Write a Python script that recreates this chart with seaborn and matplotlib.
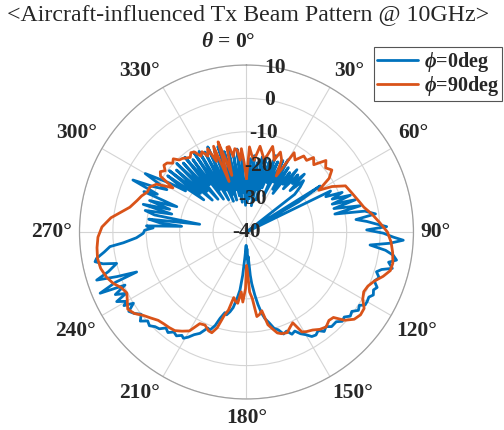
import numpy as np
import pandas as pd
import seaborn as sns
import matplotlib.pyplot as plt

# --- pattern (theta in deg, gain in dB) ---
theta_phi0 = [0, 1.5, 3, 4.5, 6, 7.5, 9, 10.5, 12, 13.5, 15, 16.5, 18, 19.5, 21, 22.5, 24, 25.5,
              27, 28.5, 30, 31.5, 33, 34.5, 36, 37.5, 39, 40.5, 42, 43.5, 45, 46.5, 48, 50, 52, 55,
              58, 60, 62, 64, 66, 67.5, 69, 70.5, 72, 73.5, 75, 77, 78.5, 80, 82, 83.5, 85, 86.5,
              87.8, 89, 90.5, 92, 93, 94.5, 96, 97.5, 99, 100.6, 102, 104, 105.5, 107, 109, 111,
              113, 114.5, 116.4, 118, 120, 121.6, 123, 125, 127, 129, 131, 133, 135, 138, 140,
              142, 144, 146, 148, 150, 152, 154, 156, 158, 160, 162, 164, 166, 168, 169.4, 171,
              172.5, 174.2, 175, 176, 177, 178.5, 180, 181.5, 183.5, 185, 186.4, 188, 190, 191.7,
              193.5, 195, 197, 198.5, 200.4, 202, 204.7, 207, 209, 210.7, 212, 214, 216, 218,
              220, 222, 224, 226, 228, 230, 232, 234, 236, 237.8, 239, 240, 241.8, 243, 244.5,
              246.4, 247.3, 249, 250, 251, 252.2, 254, 256.4, 257.5, 258.9, 260, 262, 263.9, 265,
              267, 269.3, 271, 272.5, 273.5, 275, 276, 277.5, 279.4, 280.5, 282, 283.5, 285,
              286.5, 288, 290, 291.5, 293, 294.6, 296, 298, 300, 302.5, 304, 305.5, 307, 308.5,
              310, 311.5, 313, 314.5, 316, 317.5, 319, 320.5, 322, 323.5, 325, 326.5, 328, 329.5,
              331, 332.5, 334, 335.5, 337, 338.5, 340, 341.5, 343, 344.5, 346, 347.5, 349, 350.5,
              352, 353.5, 355, 356.5, 358, 360]
gain_phi0 = [-22, -31, -18, -30, -17, -28, -19, -32, -17, -27, -16.5, -30, -18, -26, -15.5, -24,
             -17, -28, -16, -23, -15, -25, -17, -26, -18, -22, -16, -23, -17, -20, -15.5, -22,
             -17, -19, -21.7, -40, -14, -22, -40, -12, -14, -9, -12.5, -7, -13, -6, -12.9, -5,
             -13, -4, -1, -7, -3.8, -1, 2.0, -4, 1, 4, 7.0, 3, -2.8, 2, 4.5, 5.7, 3.5, 5, 2,
             0.7, 2.0, 1, 2.5, 1.8, 2.4, 1.5, 1.7, 1.7, 0.3, 0.9, -0.5, 0, -1.2, -0.8, -2, -1.9,
             -3, -2.2, -3.5, -2.8, -3.1, -4.5, -5.5, -7, -6.5, -8, -7.5, -9.2, -10, -12, -13.5,
             -15.2, -18, -21, -24.5, -27, -32.6, -28, -35, -32, -36, -32.6, -27, -22.5, -20,
             -17, -15.6, -14.5, -15, -13, -10.5, -8.7, -9, -6.6, -5.5, -4, -3, -3.5, -2.5, -3,
             -1.8, -2.5, -1, -0.6, 0.4, -0.2, 1.5, 0, 1.5, 2.5, 0, 2.8, 1.5, 4.1, 0.5, 3.5, -0.3,
             7.5, 2, -5.0, 1, 7.1, 3, 0, 4, 6.2, 5.6, 3, 1.1, -3, -7, -9.1, -9.5, -12, -10,
             -20.5, -14, -10.5, -25.8, -12, -9, -17, -8, -16, -9.5, -17.8, -7, -11, -2.6, -9,
             -13, -5, -12.8, -18, -11, -24, -10.5, -22, -12, -26, -10.7, -23, -12, -27, -11, -22,
             -13, -28, -11.3, -25, -12, -29, -13, -26, -12, -30, -14, -28, -13, -30, -15, -27,
             -14, -29, -16, -31, -15, -28, -17, -32, -22]

theta_phi90 = [0, 2, 4, 6, 9, 12, 14, 17, 19, 21, 23, 26, 28, 31, 34, 37, 40, 42, 45, 48, 51,
               54, 57, 60, 62, 65, 69, 72, 75, 78, 82, 86, 90, 94, 98, 102, 105, 108, 111, 114,
               117, 120, 123, 126, 129, 132, 134.5, 137, 140, 143, 146, 149, 151, 153, 155, 158,
               161, 163, 165, 167, 169, 171, 173, 175, 177, 179, 180, 181, 183, 185, 187, 189,
               191, 193, 195, 197, 199, 201, 204, 207, 210, 213, 216, 219, 222, 225, 228, 231,
               234, 237, 240, 243, 246, 249, 252, 256, 260, 264, 268, 272, 276, 279, 282, 286,
               289, 292, 295, 298, 301, 303, 305, 307, 309, 311, 313, 315, 317, 319, 321, 323,
               325, 327, 329, 331, 333, 335, 337, 339, 341, 342.5, 344, 345.5, 347, 348.5, 350,
               352, 353.5, 355, 356.5, 358, 360]
gain_phi90 = [-24, -14.5, -17, -18.4, -14, -16.5, -17.8, -13.2, -15, -17, -14, -16, -21, -12.3,
              -14, -11.5, -12, -10, -11.5, -8, -9.5, -8.4, -10.5, -15, -11, -7.3, -6.5, -5.8, -5,
              -4.1, -2, 0, 2.2, 3.4, 4.2, 4.8, 4.6, 3.0, 1.0, -0.2, -0.6, 0.2, 2.0, 2.2, 1.5,
              -0.5, -3.5, -3.8, -2.9, -3.5, -4.6, -5.2, -5.8, -9.5, -8.8, -7.5, -7.8, -8.4, -10,
              -11.5, -16, -15, -14.5, -20, -22, -29, -30, -23, -19, -22, -18.5, -19, -20, -16,
              -14, -10, -8.1, -8.3, -9.5, -9.2, -5.8, -4.6, -3.5, -3.2, -3.0, -2.6, -1.5, -0.3,
              1.5, 2.4, 1.2, 0.2, 1.0, 2.8, 4.0, 5.0, 5.3, 5.0, 4.5, 3.3, 0.8, -2.0, -4.3, -5.9,
              -6.8, -8.0, -8.1, -9.5, -14.3, -9.3, -8.5, -9.5, -8.2, -8.5, -9.8, -9.0, -10.5,
              -10.8, -11.5, -12.0, -11.0, -11.4, -13.5, -12.5, -14.5, -12.5, -17, -12.5, -24,
              -11.7, -17.4, -22.5, -14, -13.9, -17, -14.8, -15.3, -18.4, -15, -19, -24]

labels = [r'$\mathbf{\phi}$=0deg', r'$\mathbf{\phi}$=90deg']
colors = ['#0072BD', '#D95319']
r_ticks = [-40, -30, -20, -10, 0, 10]
theta_ticks = list(range(0, 360, 30))
theta_labels = [r'$\mathbf{\theta}$ = 0°'] + [f'{t}°' for t in theta_ticks[1:]]
# where the angle labels sit in the reference (pixel centres)
theta_label_xy = [(228, 42), (349, 71), (413, 133), (435, 232), (417, 331), (353, 393),
                  (247, 418), (139, 393), (75, 331), (52, 232), (77, 133), (139, 71)]

df = pd.concat([
    pd.DataFrame({'theta': np.deg2rad(theta_phi0), 'gain': gain_phi0, 'cut': labels[0]}),
    pd.DataFrame({'theta': np.deg2rad(theta_phi90), 'gain': gain_phi90, 'cut': labels[1]}),
])

sns.set_style('white')
plt.rcParams['font.family'] = ['Liberation Serif', 'DejaVu Serif']
plt.rcParams['mathtext.fontset'] = 'custom'
plt.rcParams['mathtext.bf'] = 'Liberation Serif:bold:italic'
plt.rcParams['mathtext.it'] = 'Liberation Serif:italic'
plt.rcParams['mathtext.rm'] = 'Liberation Serif'

W, H = 504, 430
fig = plt.figure(figsize=(W / 100, H / 100), dpi=100)
ax = fig.add_axes([0.1577, 0.0721, 0.6627, 0.7767], projection='polar')

sns.lineplot(data=df, x='theta', y='gain', hue='cut', hue_order=labels,
             palette=dict(zip(labels, colors)), sort=False, estimator=None,
             linewidth=2.0, ax=ax)

ax.set_theta_zero_location('N')
ax.set_theta_direction(-1)
ax.set_rlim(-40, 10)
ax.set_yticks(r_ticks[1:])
ax.set_yticklabels([])
ax.set_thetagrids(theta_ticks, labels=[''] * len(theta_ticks))
ax.grid(True, color='#d4d4d4', linewidth=0.8)
ax.spines['polar'].set_color('#a0a0a0')
ax.spines['polar'].set_linewidth(0.9)
ax.set_xlabel('')
ax.set_ylabel('')

for lab, (px, py) in zip(theta_labels, theta_label_xy):
    fig.text(px / W, 1 - py / H, lab, ha='center', va='center',
             fontsize=15.5, fontweight='bold')

for r in r_ticks:
    ax.text(np.deg2rad(10), r, str(r), ha='center', va='center',
            fontsize=15.5, fontweight='bold')

handles, hl = ax.get_legend_handles_labels()
ax.get_legend().remove()
leg = fig.legend(handles, hl, loc='upper right', bbox_to_anchor=(502 / W, 1 - 47 / H),
                 frameon=True, fancybox=False, edgecolor='#555555', framealpha=1,
                 prop={'weight': 'bold', 'size': 14.5}, handlelength=2.0,
                 borderpad=0.15, labelspacing=0.0, handletextpad=0.3, borderaxespad=0)
leg.get_frame().set_linewidth(0.8)

fig.text(248 / W, 1 - 15 / H, '<Aircraft-influenced Tx Beam Pattern @ 10GHz>',
         ha='center', va='center', fontsize=17.2)

fig.savefig('out.png', dpi=100)
